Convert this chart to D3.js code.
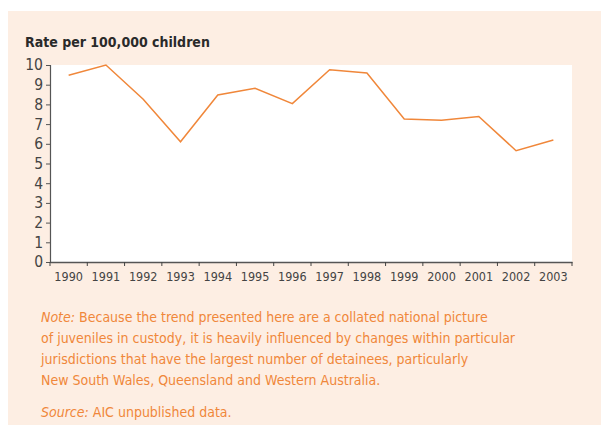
<!DOCTYPE html>
<html><head><meta charset="utf-8">
<script src="https://cdn.jsdelivr.net/npm/d3@7"></script>
<style>body{margin:0;background:#fff}svg{display:block}</style>
</head><body>
<script>
const years = ["1990","1991","1992","1993","1994","1995","1996","1997","1998","1999","2000","2001","2002","2003"];
const rates = [9.48,10.0,8.26,6.1,8.48,8.82,8.04,9.76,9.59,7.26,7.2,7.39,5.65,6.19];
const yTicks = [0,1,2,3,4,5,6,7,8,9,10];
const title = "Rate per 100,000 children";
const noteLines = [
  ["Note:", " Because the trend presented here are a collated national picture"],
  ["", "of juveniles in custody, it is heavily influenced by changes within particular"],
  ["", "jurisdictions that have the largest number of detainees, particularly"],
  ["", "New South Wales, Queensland and Western Australia."]
];
const sourceLine = ["Source:", " AIC unpublished data."];

const W = 601, H = 425;
const svg = d3.select("body").append("svg").attr("width", W).attr("height", H);
const font = "'DejaVu Sans Condensed','DejaVu Sans',sans-serif";
const orange = "#f0873a";

svg.append("rect").attr("x", 8).attr("y", 11).attr("width", W - 8).attr("height", H - 11).attr("fill", "#fdeee3");

const m = {l: 50, r: 572, t: 65, b: 262};
svg.append("rect").attr("x", m.l).attr("y", m.t).attr("width", m.r - m.l).attr("height", m.b - m.t).attr("fill", "#fff");

const x = d3.scaleBand().domain(years).range([m.l, m.r]);
const y = d3.scaleLinear().domain([0, 10]).range([m.b, m.t]);

svg.append("text").attr("x", 25).attr("y", 47).attr("font-family", font).attr("font-weight", "bold")
  .attr("font-size", 14).attr("fill", "#2a2a2a").text(title);

// y axis
const ya = svg.append("g").attr("transform", `translate(${m.l},0)`)
  .call(d3.axisLeft(y).tickValues(yTicks).tickSize(4).tickPadding(3).tickFormat(d3.format("d")));
ya.select(".domain").attr("stroke", "#555").attr("stroke-width", 1.2);
ya.selectAll(".tick line").attr("stroke", "#555");
ya.selectAll(".tick text").attr("font-family", font).attr("font-size", 15.5).attr("fill", "#444");

// x axis
const xa = svg.append("g").attr("transform", `translate(0,${m.b})`)
  .call(d3.axisBottom(x).tickSize(0).tickPadding(10));
xa.select(".domain").attr("stroke", "#555").attr("stroke-width", 1.5);
xa.selectAll(".tick text").attr("font-family", font).attr("font-size", 12.5).attr("fill", "#444");
const bounds = years.map(d => x(d)).concat([m.r]);
xa.selectAll(".bt").data(bounds).join("line").attr("class", "bt")
  .attr("x1", d => d).attr("x2", d => d).attr("y1", 0).attr("y2", 4)
  .attr("stroke", "#444").attr("stroke-width", 1);

// line
const line = d3.line().x((d, i) => x(years[i]) + x.bandwidth() / 2).y(d => y(d));
svg.append("path").datum(rates).attr("d", line).attr("fill", "none")
  .attr("stroke", orange).attr("stroke-width", 1.5);

// notes
const tx = 41;
noteLines.forEach((ln, i) => {
  const t = svg.append("text").attr("x", tx).attr("y", 322 + i * 21)
    .attr("font-family", font).attr("font-size", 14).attr("fill", orange);
  if (ln[0]) t.append("tspan").attr("font-style", "italic").text(ln[0]);
  t.append("tspan").text(ln[1]);
});
const st = svg.append("text").attr("x", tx).attr("y", 417)
  .attr("font-family", font).attr("font-size", 14).attr("fill", orange);
st.append("tspan").attr("font-style", "italic").text(sourceLine[0]);
st.append("tspan").text(sourceLine[1]);
</script>
</body></html>
